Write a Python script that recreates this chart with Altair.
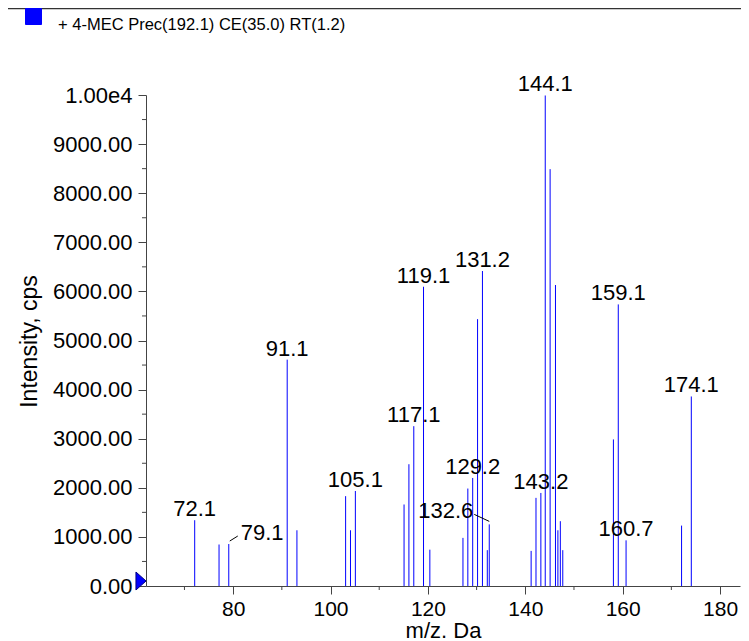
import altair as alt
import pandas as pd

# ---- data ----
peak_mz = [72.1, 77.1, 79.1, 91.1, 93.1, 103.1, 104.1, 105.1, 115.1, 116.1,
           117.1, 119.1, 120.4, 127.2, 128.2, 129.2, 130.2, 131.2, 132.2, 132.6,
           141.2, 142.2, 143.2, 144.1, 145.1, 146.2, 146.7, 147.2, 147.7, 158.1,
           159.1, 160.7, 172.1, 174.1]
peak_intensity = [1340, 845, 855, 4610, 1135, 1830, 1135, 1935, 1660, 2480,
                  3255, 6095, 740, 980, 1985, 2200, 5435, 6415, 730, 1255,
                  715, 1795, 1895, 9990, 8490, 6130, 1135, 1320, 730, 2985,
                  5735, 930, 1230, 3860]
labeled_peaks = ["72.1", "79.1", "91.1", "105.1", "117.1", "119.1", "129.2",
                 "131.2", "132.6", "143.2", "144.1", "159.1", "160.7", "174.1"]
series_name = "+ 4-MEC Prec(192.1) CE(35.0) RT(1.2)"

x_domain = [62.1, 184.1]
y_domain = [0, 10000]
x_major = [80, 100, 120, 140, 160, 180]
x_minor = [70, 90, 110, 130, 150, 170]
y_major = [0, 1000, 2000, 3000, 4000, 5000, 6000, 7000, 8000, 9000, 10000]
y_minor = [500, 1500, 2500, 3500, 4500, 5500, 6500, 7500, 8500, 9500]

x_title = "m/z. Da"
y_title = "Intensity, cps"

# ---- tables ----
df = pd.DataFrame({
    "mz": peak_mz,
    "intensity": peak_intensity,
    "label": [f"{m:.1f}" if f"{m:.1f}" in labeled_peaks else "" for m in peak_mz],
    "series": series_name,
})
df_xminor = pd.DataFrame({"v": x_minor})
df_yminor = pd.DataFrame({"v": y_minor})

W, H = 594, 491
PAD = {"left": 138, "top": 87, "right": 1, "bottom": 55}
FONT = "Liberation Sans, Arial, sans-serif"
AXIS_COLOR = "#444444"

xs = alt.Scale(domain=x_domain, nice=False, zero=False)
ys = alt.Scale(domain=y_domain, nice=False, zero=False)

x_axis = alt.Axis(values=x_major, title=x_title, grid=False, tickSize=8,
                  labelPadding=4, labelFontSize=21, labelFont=FONT,
                  labelColor="black", titleFont=FONT, titleFontSize=22,
                  titleFontWeight="normal", titleColor="black",
                  titleX=W / 2, titleY=34, titleBaseline="top",
                  domainColor=AXIS_COLOR, tickColor=AXIS_COLOR)
y_axis = alt.Axis(values=y_major, title=y_title, grid=False, tickSize=8,
                  labelPadding=6, labelFontSize=22, labelFont=FONT,
                  labelColor="black",
                  labelExpr="datum.value >= 10000 ? '1.00e4' : format(datum.value, '.2f')",
                  titleFont=FONT, titleFontSize=23, titleFontWeight="normal",
                  titleColor="black", titleX=-117, titleY=246,
                  titleBaseline="middle", titleAngle=270,
                  domainColor=AXIS_COLOR, tickColor=AXIS_COLOR)

base = alt.Chart(df)

peaks = base.mark_rule(strokeWidth=1).encode(
    x=alt.X("mz:Q", scale=xs, axis=x_axis),
    y=alt.Y("intensity:Q", scale=ys, axis=y_axis),
    y2=alt.datum(0),
    color=alt.Color("series:N", scale=alt.Scale(range=["#0000FF"]),
                    legend=alt.Legend(orient="none", legendX=-121, legendY=-87,
                                      title=None, padding=0,
                                      symbolType="square", symbolSize=256,
                                      symbolFillColor="#0000FF",
                                      symbolStrokeColor="#000080",
                                      symbolStrokeWidth=1, labelOffset=16,
                                      labelFont=FONT, labelBaseline="top",
                                      labelFontSize=16.5, labelColor="black",
                                      labelLimit=600)),
)

txt_props = dict(font=FONT, fontSize=22, color="black")

labels = base.mark_text(baseline="alphabetic", align="center", dy=-4, **txt_props).encode(
    x=alt.X("mz:Q", scale=xs), y=alt.Y("intensity:Q", scale=ys), text="label:N"
).transform_filter("datum.label != '' && datum.label != '79.1' && datum.label != '132.6'")

label_791 = base.mark_text(baseline="alphabetic", align="left", dx=12, dy=-4, **txt_props).encode(
    x=alt.X("mz:Q", scale=xs), y=alt.Y("intensity:Q", scale=ys), text="label:N"
).transform_filter("datum.label == '79.1'")

label_1326 = base.mark_text(baseline="alphabetic", align="right", dx=-16, dy=-6, **txt_props).encode(
    x=alt.X("mz:Q", scale=xs), y=alt.Y("intensity:Q", scale=ys), text="label:N"
).transform_filter("datum.label == '132.6'")

leader_791 = base.mark_rule(color="black", strokeWidth=1, xOffset=1, yOffset=-3,
                            x2Offset=9, y2Offset=-8).encode(
    x=alt.X("mz:Q", scale=xs), x2="mz:Q",
    y=alt.Y("intensity:Q", scale=ys), y2="intensity:Q"
).transform_filter("datum.label == '79.1'")

leader_1326 = base.mark_rule(color="black", strokeWidth=1, xOffset=-15, yOffset=-10,
                             x2Offset=0, y2Offset=-3).encode(
    x=alt.X("mz:Q", scale=xs), x2="mz:Q",
    y=alt.Y("intensity:Q", scale=ys), y2="intensity:Q"
).transform_filter("datum.label == '132.6'")

xminor = alt.Chart(df_xminor).mark_rule(color=AXIS_COLOR, strokeWidth=1).encode(
    x=alt.X("v:Q", scale=xs), y=alt.value(H), y2=alt.value(H + 4))
yminor = alt.Chart(df_yminor).mark_rule(color=AXIS_COLOR, strokeWidth=1).encode(
    y=alt.Y("v:Q", scale=ys), x=alt.value(-4), x2=alt.value(0))

marker = alt.Chart(df.head(1)).mark_point(
    shape="M-0.56,-1L0.56,0L-0.56,1Z", filled=True, size=324,
    fill="#0000FF", stroke="#000080", strokeWidth=1, opacity=1, yOffset=-5
).encode(x=alt.value(-5), y=alt.datum(0))

top_line = alt.Chart(df.head(1)).mark_rule(color="#333333", strokeWidth=1.5).encode(
    x=alt.value(-PAD["left"]), x2=alt.value(W + PAD["right"]), y=alt.value(-PAD["top"] + 0.5))

chart = alt.layer(
    top_line, xminor, yminor, peaks, leader_791, leader_1326,
    labels, label_791, label_1326, marker
).properties(
    width=W, height=H, padding=PAD,
    autosize=alt.AutoSizeParams(type="none"),
    background="white",
).configure_view(strokeWidth=0)

chart.save("out.html", embed_options={"renderer": "svg", "actions": False})
